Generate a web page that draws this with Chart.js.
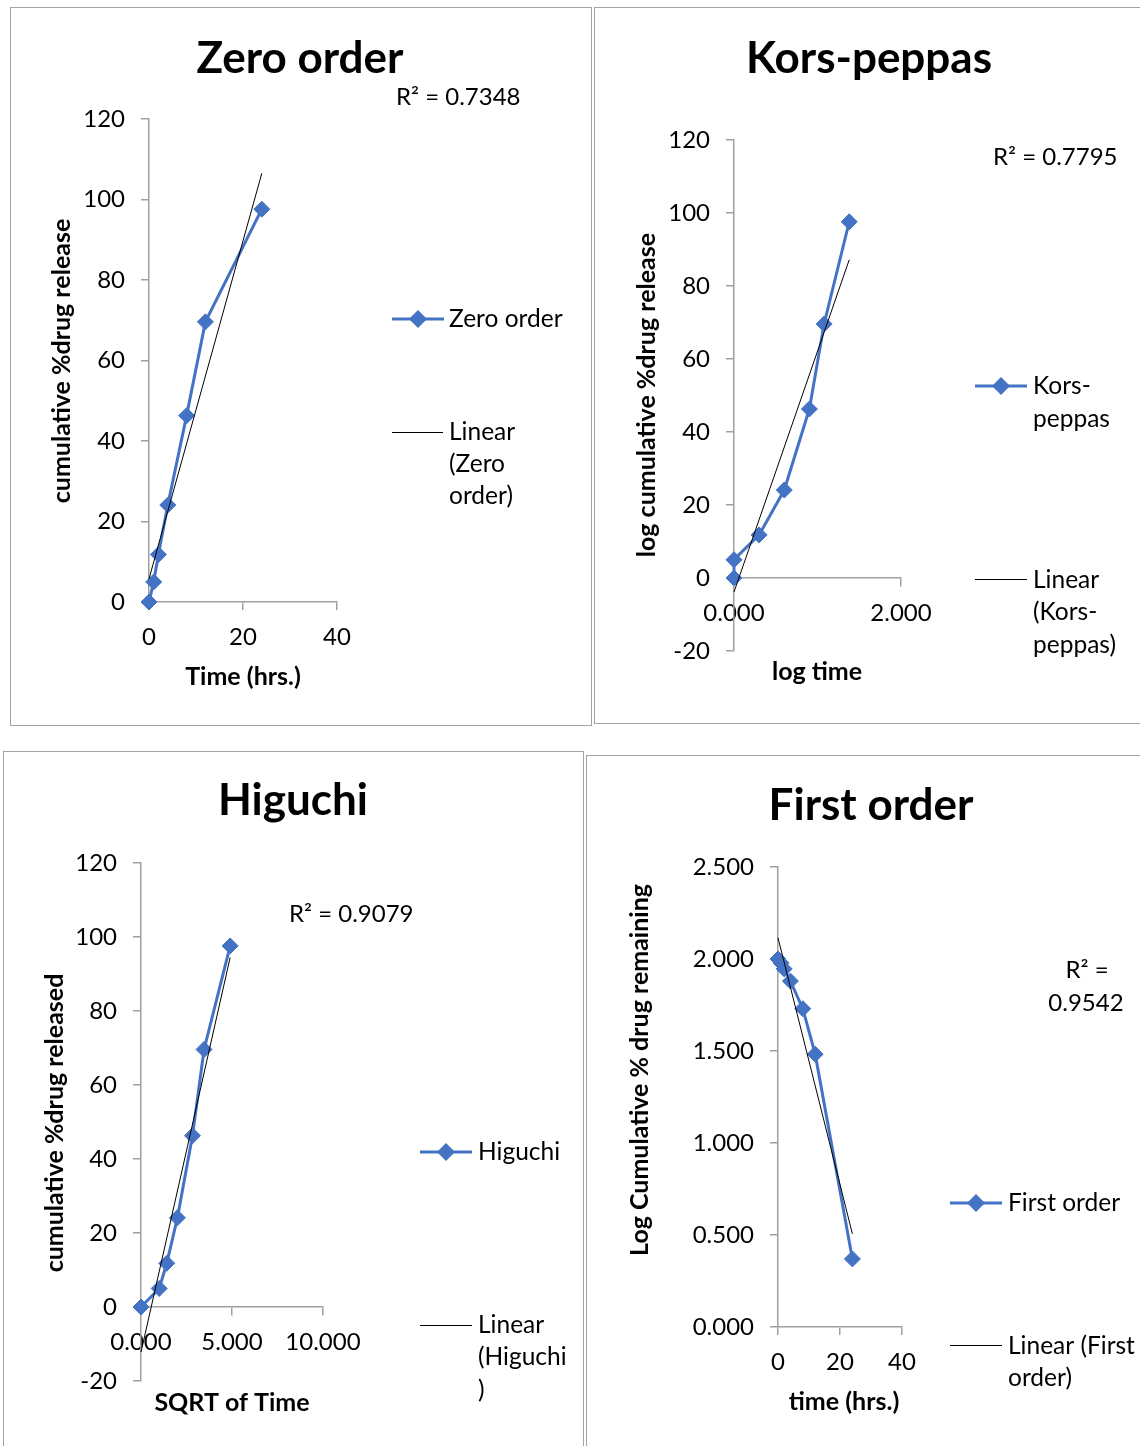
<!DOCTYPE html>
<html>
<head>
<meta charset="utf-8">
<title>Drug release kinetics</title>
<script src="https://cdn.jsdelivr.net/npm/chart.js@4.4.1/dist/chart.umd.min.js"></script>
<style>
  html, body { margin: 0; padding: 0; background: #fff; }
  body { width: 1140px; height: 1446px; position: relative; overflow: hidden; font-family: Lato, sans-serif; }
  .frame { position: absolute; box-sizing: border-box; border: 1.5px solid #a3a3a3; }
  canvas { position: absolute; }
</style>
</head>
<body>
<div class="frame" style="left:10px;top:7px;width:582px;height:719px"></div>
<div class="frame" style="left:594px;top:7px;width:560px;height:717px"></div>
<div class="frame" style="left:3px;top:751px;width:581px;height:710px"></div>
<div class="frame" style="left:586px;top:755px;width:570px;height:706px"></div>
<canvas id="zero"></canvas>
<canvas id="kp"></canvas>
<canvas id="higuchi"></canvas>
<canvas id="first"></canvas>
<script>
// Sampling times (hrs) and cumulative % drug released
const timeHrs      = [0, 1, 2, 4, 8, 12, 24];
const cumRelease   = [0, 5.0, 11.8, 24.1, 46.3, 69.6, 97.6];
// Transformed abscissae / ordinates used by the kinetic models
const logTime      = [0, 0, 0.301, 0.602, 0.903, 1.079, 1.380];
const sqrtTime     = [0, 1.000, 1.414, 2.000, 2.828, 3.464, 4.899];
const logRemaining = [2.000, 1.978, 1.946, 1.880, 1.730, 1.483, 0.370];
// Reported coefficients of determination
const rSquared     = ['0.7348', '0.7795', '0.9079', '0.9542'];
// Axis tick values
const pctTicks       = [0, 20, 40, 60, 80, 100, 120];
const pctTicksNeg    = [-20, 0, 20, 40, 60, 80, 100, 120];
const hourTicks      = [0, 20, 40];
const logTimeTicks   = [0, 2];
const sqrtTimeTicks  = [0, 5, 10];
const logRemainTicks = [0, 0.5, 1, 1.5, 2, 2.5];

const BLUE = '#4472C4';
const AXIS = '#a0a0a0';
const FONT = 'Lato, "Open Sans", sans-serif';

// least-squares straight line through the points, spanning the x range
function linearTrend(xs, ys) {
  const n = xs.length;
  const mx = xs.reduce((a, b) => a + b, 0) / n;
  const my = ys.reduce((a, b) => a + b, 0) / n;
  let sxy = 0, sxx = 0;
  for (let i = 0; i < n; i++) { sxy += (xs[i] - mx) * (ys[i] - my); sxx += (xs[i] - mx) ** 2; }
  const slope = sxy / sxx, icpt = my - slope * mx;
  const x0 = Math.min(...xs), x1 = Math.max(...xs);
  return [{ x: x0, y: icpt + slope * x0 }, { x: x1, y: icpt + slope * x1 }];
}

function textAt(ctx, str, x, y, size, bold, align) {
  ctx.font = (bold ? 'bold ' : '') + size + 'px ' + FONT;
  ctx.textAlign = align || 'left';
  ctx.textBaseline = 'middle';
  ctx.fillText(str, x, y);
}

// titles, legend and R² note, positioned in page coordinates
function decorations(spec) {
  return {
    id: 'decor',
    afterDraw(chart) {
      const ctx = chart.ctx;
      const ox = spec.box[0], oy = spec.box[1];
      ctx.save();
      ctx.translate(-ox, -oy);
      ctx.fillStyle = '#000';
      textAt(ctx, spec.title, spec.titlePos[0], spec.titlePos[1], 44, true, 'center');
      textAt(ctx, spec.xTitle, spec.xTitlePos[0], spec.xTitlePos[1], 25, true, 'center');
      ctx.save();
      ctx.translate(spec.yTitlePos[0], spec.yTitlePos[1]);
      ctx.rotate(-Math.PI / 2);
      textAt(ctx, spec.yTitle, 0, 0, 25, true, 'center');
      ctx.restore();
      spec.rsq.forEach(r => textAt(ctx, r.t, r.x, r.y, 24, false, r.align || 'left'));
      // series key: thick blue line with a diamond
      const s = spec.seriesKey;
      ctx.strokeStyle = BLUE; ctx.lineWidth = 3;
      ctx.beginPath(); ctx.moveTo(s.x1, s.y); ctx.lineTo(s.x2, s.y); ctx.stroke();
      const cx = (s.x1 + s.x2) / 2, r = 9;
      ctx.fillStyle = BLUE;
      ctx.beginPath(); ctx.moveTo(cx, s.y - r); ctx.lineTo(cx + r, s.y); ctx.lineTo(cx, s.y + r); ctx.lineTo(cx - r, s.y); ctx.closePath(); ctx.fill();
      ctx.fillStyle = '#000';
      s.lines.forEach((t, i) => textAt(ctx, t, s.tx, s.ty + i * s.lh, 24.5, false));
      // trend key: thin black line
      const k = spec.trendKey;
      ctx.strokeStyle = '#000'; ctx.lineWidth = 1;
      ctx.beginPath(); ctx.moveTo(k.x1, k.y + 0.5); ctx.lineTo(k.x2, k.y + 0.5); ctx.stroke();
      k.lines.forEach((t, i) => textAt(ctx, t, k.tx, k.ty + i * k.lh, 24.5, false));
      ctx.restore();
    }
  };
}

function buildChart(id, spec) {
  const [bx, by, bw, bh] = spec.box;
  const [L, T, R, B] = spec.area;
  const yW = 100, xH = 50;
  const canvas = document.getElementById(id);
  canvas.width = bw; canvas.height = bh;
  canvas.style.left = bx + 'px'; canvas.style.top = by + 'px';
  const xAtZero = spec.yTicks[0] < 0;
  const tickFont = { family: FONT, size: 24 };
  new Chart(canvas, {
    type: 'scatter',
    data: {
      datasets: [
        {
          label: 'Linear (' + spec.name + ')',
          data: linearTrend(spec.xs, spec.ys),
          showLine: true, borderColor: '#000', borderWidth: 1,
          pointRadius: 0, order: 0, clip: false
        },
        {
          label: spec.name,
          data: spec.xs.map((x, i) => ({ x, y: spec.ys[i] })),
          showLine: true, borderColor: BLUE, backgroundColor: BLUE, borderWidth: 3,
          pointStyle: 'rectRot', pointRadius: 8, pointBorderWidth: 1, pointBorderColor: BLUE,
          tension: 0, order: 1, clip: false
        }
      ]
    },
    options: {
      responsive: false,
      animation: false,
      events: [],
      layout: {
        padding: {
          left: L - bx - yW,
          top: T - by,
          right: bx + bw - R,
          bottom: by + bh - B - (xAtZero ? 0 : xH)
        }
      },
      plugins: { legend: { display: false }, tooltip: { enabled: false }, title: { display: false } },
      scales: {
        x: {
          type: 'linear',
          position: xAtZero ? { y: 0 } : 'bottom',
          min: spec.xTicks[0], max: spec.xTicks[spec.xTicks.length - 1],
          afterBuildTicks: s => { s.ticks = spec.xTicks.map(v => ({ value: v })); },
          afterFit: s => { s.height = xH; },
          ticks: { callback: v => v.toFixed(spec.xDec), font: tickFont, color: '#000', padding: 13, maxRotation: 0, autoSkip: false },
          grid: { drawOnChartArea: false, drawTicks: true, tickLength: 8, color: AXIS, lineWidth: 1.5 },
          border: { display: true, color: AXIS, width: 1.5 }
        },
        y: {
          type: 'linear',
          position: 'left',
          min: spec.yTicks[0], max: spec.yTicks[spec.yTicks.length - 1],
          afterBuildTicks: s => { s.ticks = spec.yTicks.map(v => ({ value: v })); },
          afterFit: s => { s.width = yW; },
          ticks: { callback: v => v.toFixed(spec.yDec), font: tickFont, color: '#000', padding: 16, autoSkip: false },
          grid: { drawOnChartArea: false, drawTicks: true, tickLength: 8, color: AXIS, lineWidth: 1.5 },
          border: { display: true, color: AXIS, width: 1.5 }
        }
      }
    },
    plugins: [decorations(spec)]
  });
}

buildChart('zero', {
  name: 'Zero order', box: [10, 7, 582, 719], area: [149, 119, 337, 602],
  xs: timeHrs, ys: cumRelease, xTicks: hourTicks, yTicks: pctTicks, xDec: 0, yDec: 0,
  title: 'Zero order', titlePos: [300, 59],
  xTitle: 'Time (hrs.)', xTitlePos: [243, 677],
  yTitle: 'cumulative %drug release', yTitlePos: [62, 361],
  rsq: [{ t: 'R\u00B2 = ' + rSquared[0], x: 396, y: 97 }],
  seriesKey: { x1: 392, x2: 444, y: 319, tx: 449, ty: 319, lh: 32, lines: ['Zero order'] },
  trendKey: { x1: 392, x2: 443, y: 432, tx: 449, ty: 432, lh: 32, lines: ['Linear', '(Zero', 'order)'] }
});

buildChart('kp', {
  name: 'Kors-peppas', box: [594, 7, 560, 717], area: [734, 140, 901, 651],
  xs: logTime, ys: cumRelease, xTicks: logTimeTicks, yTicks: pctTicksNeg, xDec: 3, yDec: 0,
  title: 'Kors-peppas', titlePos: [869, 59],
  xTitle: 'log time', xTitlePos: [817, 672],
  yTitle: 'log cumulative %drug release', yTitlePos: [647, 395],
  rsq: [{ t: 'R\u00B2 = ' + rSquared[1], x: 993, y: 157 }],
  seriesKey: { x1: 975, x2: 1027, y: 386, tx: 1033, ty: 386, lh: 33, lines: ['Kors-', 'peppas'] },
  trendKey: { x1: 975, x2: 1027, y: 579, tx: 1033, ty: 580, lh: 32.5, lines: ['Linear', '(Kors-', 'peppas)'] }
});

buildChart('higuchi', {
  name: 'Higuchi', box: [3, 751, 581, 710], area: [141, 863, 323, 1381],
  xs: sqrtTime, ys: cumRelease, xTicks: sqrtTimeTicks, yTicks: pctTicksNeg, xDec: 3, yDec: 0,
  title: 'Higuchi', titlePos: [293, 801],
  xTitle: 'SQRT of Time', xTitlePos: [232, 1403],
  yTitle: 'cumulative %drug released', yTitlePos: [55, 1123],
  rsq: [{ t: 'R\u00B2 = ' + rSquared[2], x: 289, y: 914 }],
  seriesKey: { x1: 420, x2: 472, y: 1152, tx: 478, ty: 1152, lh: 32, lines: ['Higuchi'] },
  trendKey: { x1: 420, x2: 472, y: 1325, tx: 478, ty: 1325, lh: 32.5, lines: ['Linear', '(Higuchi', ')'] }
});

buildChart('first', {
  name: 'First order', box: [586, 755, 570, 706], area: [778, 867, 902, 1327],
  xs: timeHrs, ys: logRemaining, xTicks: hourTicks, yTicks: logRemainTicks, xDec: 0, yDec: 3,
  title: 'First order', titlePos: [871, 806],
  xTitle: 'time (hrs.)', xTitlePos: [844, 1402],
  yTitle: 'Log Cumulative % drug remaining', yTitlePos: [640, 1070],
  rsq: [{ t: 'R\u00B2 =', x: 1087, y: 970, align: 'center' }, { t: rSquared[3], x: 1086, y: 1003, align: 'center' }],
  seriesKey: { x1: 950, x2: 1002, y: 1203, tx: 1008, ty: 1203, lh: 32, lines: ['First order'] },
  trendKey: { x1: 950, x2: 1002, y: 1345, tx: 1008, ty: 1346, lh: 32, lines: ['Linear (First', 'order)'] }
});
</script>
</body>
</html>
